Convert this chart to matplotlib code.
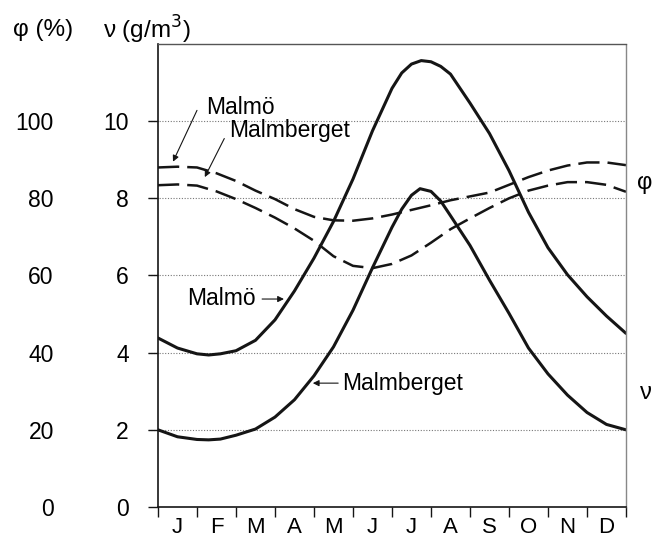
import numpy as np
import matplotlib.pyplot as plt

plt.rcParams['font.family'] = ['Liberation Sans', 'DejaVu Sans']

months = ['J', 'F', 'M', 'A', 'M', 'J', 'J', 'A', 'S', 'O', 'N', 'D']

# curve readings, x in months from 1 Jan
t_malmo = [0, 0.5, 1.0, 1.3, 1.6, 2.0, 2.5, 3.0, 3.5, 4.0, 4.5, 5.0, 5.5, 6.0, 6.25,
           6.5, 6.75, 7.0, 7.25, 7.5, 8.0, 8.5, 9.0, 9.5, 10.0, 10.5, 11.0, 11.5, 12.0]
v_malmo = [4.38, 4.12, 3.97, 3.94, 3.97, 4.05, 4.32, 4.85, 5.6, 6.45, 7.4, 8.5, 9.75, 10.85, 11.25,
           11.48, 11.57, 11.54, 11.42, 11.22, 10.47, 9.68, 8.72, 7.64, 6.72, 6.02, 5.45, 4.95, 4.5]

t_malmb = [0, 0.5, 1.0, 1.3, 1.6, 2.0, 2.5, 3.0, 3.5, 4.0, 4.5, 5.0, 5.5, 6.0, 6.25,
           6.5, 6.72, 7.0, 7.25, 7.5, 8.0, 8.5, 9.0, 9.5, 10.0, 10.5, 11.0, 11.5, 12.0]
v_malmb = [2.0, 1.82, 1.75, 1.74, 1.76, 1.86, 2.02, 2.33, 2.78, 3.4, 4.15, 5.1, 6.2, 7.25, 7.72,
           8.08, 8.25, 8.18, 7.93, 7.55, 6.78, 5.88, 5.02, 4.12, 3.45, 2.9, 2.45, 2.14, 2.0]

t_phi = [0, 0.5, 1.0, 1.5, 2.0, 2.5, 3.0, 3.5, 4.0, 4.5, 5.0, 5.5, 6.0, 6.5,
         7.0, 7.5, 8.0, 8.5, 9.0, 9.5, 10.0, 10.5, 11.0, 11.5, 12.0]
phi_malmo = [88.0, 88.2, 88.0, 86.5, 84.5, 82.0, 79.8, 77.2, 75.2, 74.3, 74.2, 74.8, 75.8,
             77.0, 78.2, 79.5, 80.5, 81.5, 83.5, 85.5, 87.2, 88.5, 89.3, 89.3, 88.6]
phi_malmb = [83.4, 83.6, 83.3, 81.8, 79.8, 77.5, 75.0, 72.2, 69.0, 65.0, 62.5, 61.9, 63.0,
             65.2, 68.5, 72.0, 74.8, 77.5, 80.0, 82.0, 83.3, 84.2, 84.2, 83.5, 81.7]

v_ticks = [0, 2, 4, 6, 8, 10]

fig = plt.figure(figsize=(6.55, 5.42), dpi=100)
ax = fig.add_axes([0.2412, 0.0646, 0.7145, 0.8542])

ink = '#151515'
ax.plot(t_malmo, v_malmo, color=ink, lw=2.2, solid_capstyle='round', solid_joinstyle='round')
ax.plot(t_malmb, v_malmb, color=ink, lw=2.2, solid_capstyle='round', solid_joinstyle='round')
ax.plot(t_phi, np.array(phi_malmo) / 10, color=ink, lw=1.8, linestyle=(0, (8.5, 3.2)))
ax.plot(t_phi, np.array(phi_malmb) / 10, color=ink, lw=1.8, linestyle=(0, (8.5, 3.2)))

ax.set_xlim(0, 12)
ax.set_ylim(0, 12)

ax.set_yticks(v_ticks)
ax.tick_params(axis='y', direction='out', length=7, width=1, pad=14, labelsize=16.5, color=ink)
for y in v_ticks[1:]:
    ax.axhline(y, xmin=-0.021, xmax=1, color='#777777', lw=0.8, linestyle=(0, (1, 1.5)),
               clip_on=False, zorder=0)

ax.set_xticks(np.arange(13))
ax.set_xticklabels([])
ax.set_xticks(np.arange(12) + 0.5, minor=True)
ax.set_xticklabels(months, minor=True)
ax.tick_params(axis='x', which='major', direction='out', length=7, width=1, color=ink)
ax.tick_params(axis='x', which='minor', length=0, pad=7, labelsize=16)

sec = ax.secondary_yaxis('left', functions=(lambda v: v * 10, lambda p: p / 10))
sec.set_yticks([p * 10 for p in v_ticks])
sec.tick_params(length=0, pad=75, labelsize=16.5)
sec.spines['left'].set_visible(False)

for s in ['left', 'bottom']:
    ax.spines[s].set_color(ink)
    ax.spines[s].set_linewidth(1.2)
ax.spines['top'].set_color('#555555')
ax.spines['top'].set_linewidth(1.0)
ax.spines['right'].set_color('#888888')
ax.spines['right'].set_linewidth(1.0)
ax.spines['right'].set_linestyle((0, (1, 1)))

arrow = dict(arrowstyle='-|>', color=ink, lw=0.8, mutation_scale=9, shrinkA=0, shrinkB=0)
ax.text(1.24, 10.36, 'Malmö', fontsize=16.5, ha='left', va='center')
ax.annotate('', xy=(0.385, 8.95), xytext=(1.0, 10.28), arrowprops=arrow)
ax.text(1.83, 9.76, 'Malmberget', fontsize=16.5, ha='left', va='center')
ax.annotate('', xy=(1.2, 8.55), xytext=(1.7, 9.55), arrowprops=arrow)
ax.text(0.75, 5.41, 'Malmö', fontsize=16.5, ha='left', va='center')
ax.annotate('', xy=(3.23, 5.39), xytext=(2.67, 5.39), arrowprops=arrow)
ax.text(4.72, 3.21, 'Malmberget', fontsize=16.5, ha='left', va='center')
ax.annotate('', xy=(3.97, 3.21), xytext=(4.62, 3.21), arrowprops=arrow)

fig.text(13 / 655, 1 - 30 / 542, 'φ (%)', fontsize=17.5, ha='left', va='center')
fig.text(103 / 655, 1 - 30 / 542, 'ν (g/m$^3$)', fontsize=17.5, ha='left', va='center')
fig.text(637 / 655, 1 - 183 / 542, 'φ', fontsize=17, ha='left', va='center')
fig.text(640 / 655, 1 - 393 / 542, 'ν', fontsize=17, ha='left', va='center')

fig.savefig('out.png', dpi=100)
